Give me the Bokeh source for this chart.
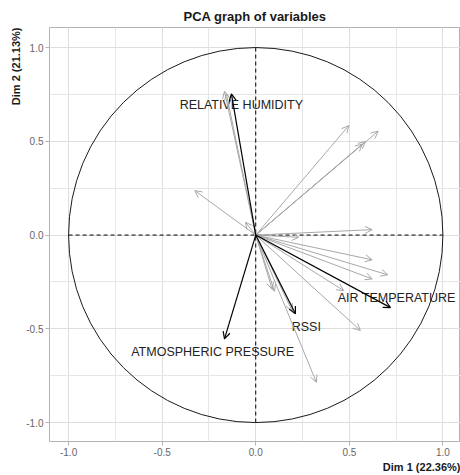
from bokeh.plotting import figure
from bokeh.models import ColumnDataSource, Arrow, OpenHead, FixedTicker, Range1d, Title
from bokeh.core.properties import value
from bokeh.embed import file_html
from bokeh.resources import INLINE

title = "PCA graph of variables"
x_label = "Dim 1 (22.36%)"
y_label = "Dim 2 (21.13%)"

tick_values = [-1.0, -0.5, 0.0, 0.5, 1.0]
tick_labels = ["-1.0", "-0.5", "0.0", "0.5", "1.0"]
minor_values = [-0.75, -0.25, 0.25, 0.75]

# labelled variables (black arrows)
var_names = ["RELATIVE HUMIDITY", "AIR TEMPERATURE", "RSSI", "ATMOSPHERIC PRESSURE"]
var_dim1 = [-0.13, 0.72, 0.212, -0.167]
var_dim2 = [0.753, -0.387, -0.42, -0.554]
label_dim1 = [-0.077, 0.753, 0.27, -0.23]
label_dim2 = [0.693, -0.338, -0.49, -0.621]

# other variables (grey arrows)
other_dim1 = [-0.167, -0.157, -0.326, -0.055, 0.497, 0.654, 0.586, 0.57,
              0.622, 0.23, 0.622, 0.705, 0.622, 0.47, 0.559, 0.324,
              0.088, 0.1, 0.195]
other_dim2 = [0.767, 0.753, 0.237, 0.068, 0.584, 0.554, 0.499, 0.485,
              0.029, -0.012, -0.132, -0.212, -0.234, -0.296, -0.509, -0.785,
              -0.29, -0.3, -0.405]

FONT = "Liberation Sans"

xr = Range1d(-1.102, 1.094)
yr = Range1d(-1.101, 1.107)

p = figure(width=460, height=475, x_range=xr, y_range=yr,
           output_backend="svg", toolbar_location=None, title=title,
           min_border_left=49, min_border_right=0,
           min_border_top=27, min_border_bottom=34)

p.background_fill_color = "white"
p.border_fill_color = "white"
p.outline_line_color = "#B3B3B3"
p.outline_line_width = 1

p.title.align = "center"
p.title.text_font = FONT
p.title.text_font_size = "13px"
p.title.text_font_style = "bold"
p.title.text_color = "#1a1a1a"
p.title.standoff = 7

ticker = FixedTicker(ticks=tick_values, minor_ticks=minor_values)
overrides = {t: l for t, l in zip(tick_values, tick_labels)}
for ax in (p.xaxis[0], p.yaxis[0]):
    ax.ticker = ticker
    ax.major_label_overrides = overrides
    ax.axis_line_color = None
    ax.major_tick_line_color = "#B3B3B3"
    ax.major_tick_out = 4
    ax.major_tick_in = 0
    ax.minor_tick_line_color = None
    ax.major_label_text_font = FONT
    ax.major_label_text_font_size = "10px"
    ax.major_label_text_color = "#666666"
    ax.major_label_standoff = 2
p.yaxis.major_label_orientation = "horizontal"

for g in (p.xgrid[0], p.ygrid[0]):
    g.grid_line_color = "#DEDEDE"
    g.grid_line_width = 1
    g.minor_grid_line_color = "#E6E6E6"
    g.minor_grid_line_width = 1

# axis titles, placed like ggplot (right / top aligned)
p.add_layout(Title(text=x_label, align="right", standoff=1,
                   text_font=FONT, text_font_size="11px", text_font_style="bold",
                   text_color="#1a1a1a"), "below")
p.add_layout(Title(text=y_label, align="right", standoff=3,
                   text_font=FONT, text_font_size="11px", text_font_style="bold",
                   text_color="#1a1a1a"), "left")

lo, hi = min(tick_values), max(tick_values)
p.segment(x0=[lo, 0], y0=[0, lo], x1=[hi, 0], y1=[0, hi],
          line_color="black", line_width=1, line_dash="4 3")
p.ellipse(x=[0], y=[0], width=hi - lo, height=hi - lo,
          fill_color=None, line_color="#1a1a1a", line_width=1)

p.text(x=label_dim1, y=label_dim2, text=var_names,
       text_align="center", text_baseline="middle",
       text_font=value(FONT), text_font_size="12.5px", text_color="#222222")

n = len(other_dim1)
src_o = ColumnDataSource(dict(x0=[0.0] * n, y0=[0.0] * n, x1=other_dim1, y1=other_dim2))
p.add_layout(Arrow(end=OpenHead(size=7, line_color="#A8A8A8", line_width=1),
                   x_start="x0", y_start="y0", x_end="x1", y_end="y1",
                   source=src_o, line_color="#A8A8A8", line_width=1))

m = len(var_dim1)
src_v = ColumnDataSource(dict(x0=[0.0] * m, y0=[0.0] * m, x1=var_dim1, y1=var_dim2))
p.add_layout(Arrow(end=OpenHead(size=7, line_color="black", line_width=1.2),
                   x_start="x0", y_start="y0", x_end="x1", y_end="y1",
                   source=src_v, line_color="black", line_width=1.2))

open("out.html", "w").write(file_html(p, INLINE))
